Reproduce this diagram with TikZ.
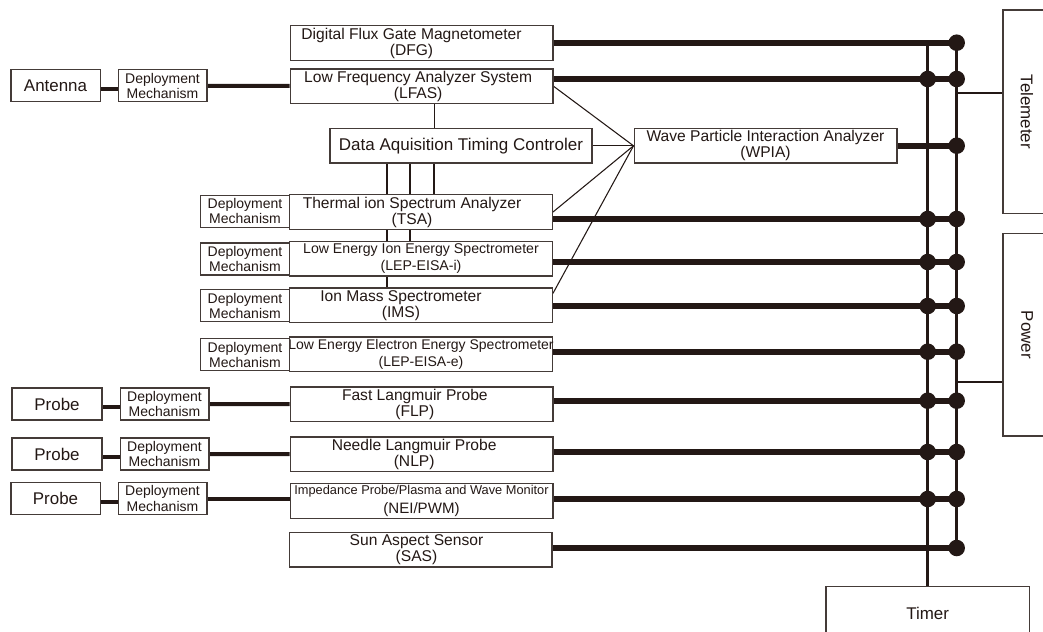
\documentclass[tikz,border=0pt]{standalone}
\usepackage{fontspec}
\setmainfont{Liberation Sans}
\usepackage{graphicx}
\usetikzlibrary{backgrounds}
\definecolor{ink}{RGB}{35,24,21}

\begin{document}
\begin{tikzpicture}
[
x=0.75pt, y=-0.75pt,
Unit/.style={rectangle,draw=ink!85,fill=white,text=ink,line width=1pt,inner sep=0pt,minimum width=197pt,minimum height=26pt,align=center,font=\fontsize{11.7}{12}\selectfont},
Mech/.style={rectangle,draw=ink!85,fill=white,text=ink,line width=1pt,inner sep=0pt,minimum width=66.5pt,minimum height=24pt,align=center,font=\fontsize{10.5}{11.3}\selectfont},
Sensor/.style={rectangle,draw=ink!85,fill=white,text=ink,line width=1pt,inner sep=0pt,minimum width=67pt,minimum height=24pt,font=\fontsize{12.7}{14}\selectfont},
Side/.style={rectangle,draw=ink!85,fill=white,text=ink,line width=1pt,inner sep=0pt,font=\fontsize{12.7}{14}\selectfont},
Thickline/.style={draw=ink,line width=4.5pt},
Mechline/.style={draw=ink,line width=3pt},
Busline/.style={draw=ink,line width=2pt},
Midline/.style={draw=ink,line width=1.5pt},
Thinline/.style={draw=ink,line width=0.8pt},
]

\useasboundingbox (0,0) rectangle (1043,632);
\clip (0,0) rectangle (1043,632);

% instruments
\node[Unit] (dfg) at (421.5,43) {Digital Flux Gate Magnetometer\hspace*{15pt}\\(DFG)\hspace*{15pt}};
\node[Unit] (lfas) at (421.5,86.2) {Low Frequency Analyzer System\hspace*{5pt}\\(LFAS)\hspace*{5pt}};
\node[Unit,minimum width=196.5pt,font=\fontsize{12.75}{14}\selectfont] (datc) at (461,145.8) {Data Aquisition Timing Controler};
\node[Unit] (wpia) at (765.5,145.8) {Wave Particle Interaction Analyzer\\(WPIA)};
\node[Unit] (tsa) at (421,212) {Thermal ion Spectrum Analyzer\hspace*{13.5pt}\\(TSA)\hspace*{13.5pt}};
\node[Unit,font=\fontsize{10.6}{12.5}\selectfont] (lepi) at (421,258.8) {Low Energy Ion Energy Spectrometer\\(LEP-EISA-i)};
\node[Unit] (ims) at (421,305.3) {Ion Mass Spectrometer\hspace*{30pt}\\(IMS)\hspace*{30pt}};
\node[Unit,font=\fontsize{10.5}{12.5}\selectfont] (lepe) at (421,354.2) {\makebox[190pt]{Low Energy Electron Energy Spectrometer}\\(LEP-EISA-e)};
\node[Unit] (flp) at (421.5,404.2) {Fast Langmuir Probe\hspace*{10pt}\\(FLP)\hspace*{10pt}};
\node[Unit] (nlp) at (421.5,454.2) {Needle Langmuir Probe\hspace*{11pt}\\(NLP)\hspace*{11pt}};
\node[Unit,font=\fontsize{11.3}{14}\selectfont] (nei) at (421.5,501) {{\fontsize{9.6}{11}\selectfont Impedance Probe/Plasma and Wave Monitor}\\(NEI/PWM)};
\node[Unit] (sas) at (420.5,549.5) {Sun Aspect Sensor\hspace*{6pt}\\(SAS)\hspace*{6pt}};

% sensors and deployment
\node[Sensor] (ant) at (55.5,85.8) {Antenna};
\node[Mech] (dant) at (162.5,85.8) {Deployment\\Mechanism};
\node[Mech] (dtsa) at (245,211.3) {Deployment\\Mechanism};
\node[Mech] (dlepi) at (245,259) {Deployment\\Mechanism};
\node[Mech] (dims) at (245,305.8) {Deployment\\Mechanism};
\node[Mech] (dlepe) at (245,354.8) {Deployment\\Mechanism};
\node[Sensor,minimum width=67.5pt] (pflp) at (57,404) {Probe};
\node[Mech] (dflp) at (164.5,404) {Deployment\\Mechanism};
\node[Sensor,minimum width=67.5pt] (pnlp) at (57,454) {Probe};
\node[Mech] (dnlp) at (164.5,454) {Deployment\\Mechanism};
\node[Sensor] (pnei) at (55.5,498.5) {Probe};
\node[Mech] (dnei) at (162.5,498.5) {Deployment\\Mechanism};

% subsystems
\node[Side,minimum width=36pt,minimum height=152.5pt] (tele) at (1027,111.7) {\rotatebox{-90}{Telemeter}};
\node[Side,minimum width=36pt,minimum height=152pt] (pow) at (1027,334.7) {\rotatebox{-90}{Power}};
\node[Side,minimum width=152.5pt,minimum height=40pt] (timer) at (927.7,613.3) {Timer};

% bus taps
\coordinate (lTop) at (927.7,42.7);
\coordinate (rDFG) at (956.7,42.7);
\coordinate (rLFAS) at (956.7,79);
\coordinate (rWPIA) at (956.7,145.7);
\coordinate (rTSA) at (956.7,219);
\coordinate (rLEPi) at (956.7,262);
\coordinate (rIMS) at (956.7,306);
\coordinate (rLEPe) at (956.7,351.7);
\coordinate (rFLP) at (956.7,400.7);
\coordinate (rNLP) at (956.7,452);
\coordinate (rNEI) at (956.7,499);
\coordinate (rSAS) at (956.7,548);
\coordinate (rTele) at (956.7,93.3);
\coordinate (rPow) at (956.7,381.7);

\begin{pgfonlayer}{background}
\draw[Busline] (lTop) -- (timer.north);
\draw[Busline] (rDFG) -- (rSAS);
\draw[Midline] (rTele) -- (rTele -| tele.west);
\draw[Midline] (rPow) -- (rPow -| pow.west);

\draw[Thickline] (dfg.east |- rDFG) -- (rDFG);
\draw[Thickline] (lfas.east |- rLFAS) -- (rLFAS);
\draw[Thickline] (wpia.east |- rWPIA) -- (rWPIA);
\draw[Thickline] (tsa.east |- rTSA) -- (rTSA);
\draw[Thickline] (lepi.east |- rLEPi) -- (rLEPi);
\draw[Thickline] (ims.east |- rIMS) -- (rIMS);
\draw[Thickline] (lepe.east |- rLEPe) -- (rLEPe);
\draw[Thickline] (flp.east |- rFLP) -- (rFLP);
\draw[Thickline] (nlp.east |- rNLP) -- (rNLP);
\draw[Thickline] (nei.east |- rNEI) -- (rNEI);
\draw[Thickline] (sas.east |- rSAS) -- (rSAS);

\draw[Mechline] ([yshift=-2.5pt]ant.east) -- ([yshift=-2.5pt]dant.west);
\draw[Mechline] (dant) -- (lfas);
\draw[Mechline] ([yshift=-2.2pt]pflp.east) -- ([yshift=-2.2pt]dflp.west);
\draw[Mechline] (dflp) -- (flp);
\draw[Mechline] ([yshift=-2.2pt]pnlp.east) -- ([yshift=-2.2pt]dnlp.west);
\draw[Mechline] (dnlp) -- (nlp);
\draw[Mechline] ([yshift=-2.5pt]pnei.east) -- ([yshift=-2.5pt]dnei.west);
\draw[Mechline] (dnei.east) -- (dnei.east -| nei.west);

\draw[Thinline] ([xshift=9.4pt]lfas.south) -- ([xshift=9.4pt]lfas.south |- datc.north);
\draw[Thinline] ([xshift=-20.25pt]datc.south) -- ([xshift=-20.25pt]datc.south |- tsa.north);
\draw[Thinline] ([xshift=-38.25pt]datc.south) -- ([xshift=-38.25pt]datc.south |- lepi.north);
\draw[Thinline] ([xshift=-55.5pt]datc.south) -- ([xshift=-55.5pt]datc.south |- ims.north);
\draw[Thinline] (datc.east) -- (wpia.west);
\draw[Thinline] (lfas.east) -- (wpia.west);
\draw[Thinline] (tsa.east) -- (wpia.west);
\draw[Thinline] ([yshift=9pt]ims.east) -- (wpia.west);
\end{pgfonlayer}

% junctions
\fill[ink] (rDFG) circle[radius=6.2pt];
\fill[ink] (rLFAS) circle[radius=6.2pt];
\fill[ink] (rWPIA) circle[radius=6.2pt];
\fill[ink] (rTSA) circle[radius=6.2pt];
\fill[ink] (rLEPi) circle[radius=6.2pt];
\fill[ink] (rIMS) circle[radius=6.2pt];
\fill[ink] (rLEPe) circle[radius=6.2pt];
\fill[ink] (rFLP) circle[radius=6.2pt];
\fill[ink] (rNLP) circle[radius=6.2pt];
\fill[ink] (rNEI) circle[radius=6.2pt];
\fill[ink] (rSAS) circle[radius=6.2pt];
\fill[ink] (rLFAS -| lTop) circle[radius=6.2pt];
\fill[ink] (rTSA -| lTop) circle[radius=6.2pt];
\fill[ink] (rLEPi -| lTop) circle[radius=6.2pt];
\fill[ink] (rIMS -| lTop) circle[radius=6.2pt];
\fill[ink] (rLEPe -| lTop) circle[radius=6.2pt];
\fill[ink] (rFLP -| lTop) circle[radius=6.2pt];
\fill[ink] (rNLP -| lTop) circle[radius=6.2pt];
\fill[ink] (rNEI -| lTop) circle[radius=6.2pt];

\end{tikzpicture}
\end{document}
